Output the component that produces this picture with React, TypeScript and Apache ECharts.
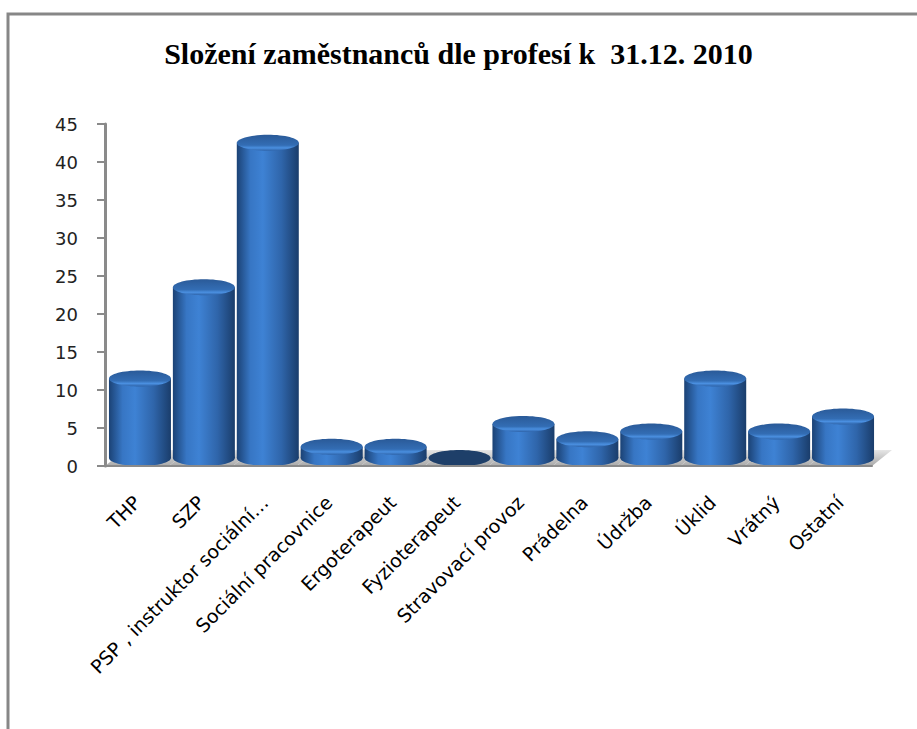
import React, { useEffect, useRef } from "react";
import * as echarts from "echarts";

const categories = [
  "THP",
  "SZP",
  "PSP , instruktor sociální…",
  "Sociální pracovnice",
  "Ergoterapeut",
  "Fyzioterapeut",
  "Stravovací provoz",
  "Prádelna",
  "Údržba",
  "Úklid",
  "Vrátný",
  "Ostatní",
];
const values = [11, 23, 42, 2, 2, 0, 5, 3, 4, 11, 4, 6];
const yTicks = { min: 0, max: 45, interval: 5 };
const titleText = "Složení zaměstnanců dle profesí k  31.12. 2010";

export default function App() {
  const ref = useRef<HTMLDivElement>(null);
  useEffect(() => {
    document.body.style.margin = "0";
    const chart = echarts.init(ref.current!, undefined, { renderer: "svg" });

    const bodyGrad = new echarts.graphic.LinearGradient(0, 0, 1, 0, [
      { offset: 0, color: "#1b4275" },
      { offset: 0.22, color: "#3776c4" },
      { offset: 0.42, color: "#3e82d4" },
      { offset: 0.72, color: "#2f65aa" },
      { offset: 1, color: "#1a3d6b" },
    ]);
    const topGrad = new echarts.graphic.LinearGradient(0, 0, 0, 1, [
      { offset: 0, color: "#2a5a98" },
      { offset: 0.65, color: "#336db4" },
      { offset: 0.82, color: "#4a8fe0" },
      { offset: 1, color: "#2e63a8" },
    ]);
    const floorGrad = new echarts.graphic.LinearGradient(0, 0, 0, 1, [
      { offset: 0, color: "#e6e6e6" },
      { offset: 1, color: "#a9a9a9" },
    ]);

    const data = categories.map((c, i) => [i, values[i]]);

    chart.setOption({
      animation: false,
      title: {
        text: titleText,
        left: "center",
        top: 33,
        textStyle: {
          fontFamily: "Liberation Serif",
          fontWeight: "bold",
          fontSize: 30,
          color: "#000",
        },
      },
      graphic: [
        {
          type: "polyline",
          shape: { points: [[8, 729], [8, 14], [917, 14]] },
          style: { stroke: "#878787", lineWidth: 3, fill: null },
          silent: true,
        },
      ],
      grid: { left: 105, right: 45, top: 124, bottom: 263, containLabel: false },
      xAxis: {
        type: "category",
        data: categories,
        boundaryGap: true,
        axisLine: { show: true, lineStyle: { color: "#8a8a8a", width: 2 } },
        axisTick: { show: false },
        axisLabel: {
          rotate: 45,
          interval: 0,
          margin: 33,
          fontFamily: "DejaVu Sans",
          fontSize: 19,
          color: "#000",
        },
        z: 10,
      },
      yAxis: {
        type: "value",
        min: yTicks.min,
        max: yTicks.max,
        interval: yTicks.interval,
        axisLine: { show: true, lineStyle: { color: "#8a8a8a", width: 3 } },
        axisTick: { show: true, length: 8, lineStyle: { color: "#8a8a8a", width: 2 } },
        splitLine: { show: false },
        axisLabel: {
          fontFamily: "DejaVu Sans",
          fontSize: 18,
          color: "#222",
          margin: 27,
        },
      },
      series: [
        {
          type: "custom",
          z: 1,
          data,
          renderItem: (params: any, api: any) => {
            const i = api.value(0);
            const base = api.coord([i, 0]);
            const bw = api.size([1, 0])[0];
            const x0 = base[0] - bw / 2;
            const x1 = base[0] + bw / 2;
            const by = base[1];
            return {
              type: "polygon",
              shape: {
                points: [
                  [x0, by],
                  [x1, by],
                  [x1 + 20, by - 16],
                  [x0 + 20, by - 16],
                ],
              },
              style: { fill: floorGrad, stroke: null },
            };
          },
        },
        {
          type: "custom",
          z: 2,
          data,
          renderItem: (params: any, api: any) => {
            const i = api.value(0);
            const v = api.value(1);
            const top = api.coord([i, v]);
            const base = api.coord([i, 0]);
            const bw = api.size([1, 0])[0];
            const w = bw * 0.97;
            const rx = w / 2;
            const ry = 8;
            const cx = base[0] + 3;
            const yBot = base[1] - 8;
            const yTop = Math.min(top[1] - 4, yBot);
            if (v <= 0) {
              return {
                type: "ellipse",
                shape: { cx, cy: yBot, rx, ry },
                style: { fill: "#1e3f69" },
              };
            }
            return {
              type: "group",
              children: [
                {
                  type: "ellipse",
                  shape: { cx, cy: yBot, rx, ry },
                  style: { fill: bodyGrad },
                },
                {
                  type: "rect",
                  shape: { x: cx - rx, y: yTop, width: w, height: yBot - yTop },
                  style: { fill: bodyGrad },
                },
                {
                  type: "ellipse",
                  shape: { cx, cy: yTop, rx, ry },
                  style: { fill: topGrad },
                },
              ],
            };
          },
        },
      ],
    });
    return () => chart.dispose();
  }, []);
  return <div ref={ref} style={{ width: 917, height: 729 }} />;
}
